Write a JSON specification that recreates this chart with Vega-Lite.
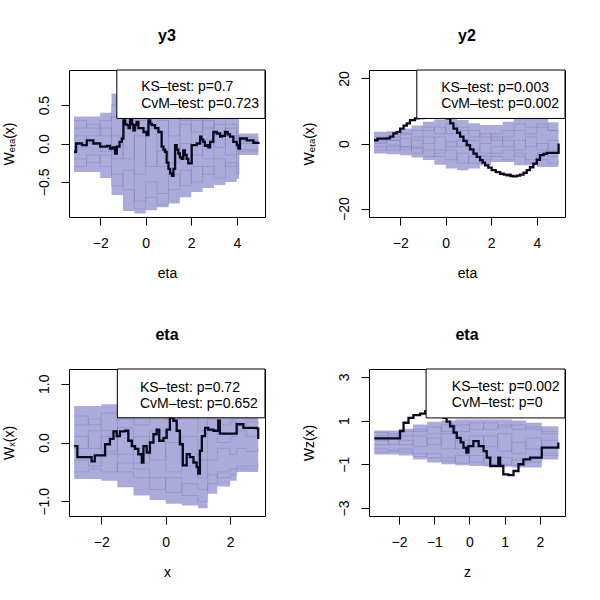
{
  "$schema": "https://vega.github.io/schema/vega-lite/v6.json",
  "background": "white",
  "padding": {"left": 1, "top": 27, "right": 0, "bottom": 0},
  "config": {
    "font": "Liberation Sans",
    "view": {"stroke": "black", "strokeWidth": 1},
    "axis": {"grid": false, "domain": false, "tickColor": "black", "tickSize": 8, "labelColor": "black", "labelFontSize": 14, "labelFont": "Liberation Sans", "titleFont": "Liberation Sans", "titleFontSize": 14, "titleFontWeight": "normal", "titleColor": "black", "labelPadding": 10},
    "axisY": {"labelAngle": -90, "labelAlign": "center", "labelBaseline": "bottom", "titlePadding": 21},
    "axisX": {"labelPadding": 11, "titlePadding": 16},
    "title": {"fontSize": 16, "font": "Liberation Sans", "fontWeight": "bold", "frame": "group", "offset": 26, "color": "black"}
  },
  "datasets": {
    "p1s": [
      {"x": -3.15, "lo": -0.37, "hi": 0.35, "a": 0.2, "b": -0.2, "c": 0.1, "d": -0.05, "e": 0.3, "f": -0.3},
      {"x": -2.6, "lo": -0.37, "hi": 0.35, "a": 0.25, "b": -0.25, "c": 0, "d": 0.1, "e": 0.2, "f": -0.15},
      {"x": -2.0, "lo": -0.45, "hi": 0.4, "a": 0.1, "b": -0.15, "c": -0.1, "d": 0.2, "e": 0.3, "f": -0.3},
      {"x": -1.5, "lo": -0.67, "hi": 0.65, "a": 0.35, "b": -0.4, "c": 0.1, "d": -0.2, "e": 0.5, "f": -0.55},
      {"x": -1.0, "lo": -0.88, "hi": 0.78, "a": 0.5, "b": -0.6, "c": -0.2, "d": 0.2, "e": 0.35, "f": -0.35},
      {"x": -0.5, "lo": -0.91, "hi": 0.85, "a": 0.3, "b": -0.75, "c": 0.1, "d": -0.4, "e": 0.7, "f": -0.85},
      {"x": 0.0, "lo": -0.87, "hi": 0.85, "a": 0.55, "b": -0.5, "c": -0.3, "d": 0.2, "e": 0.4, "f": -0.7},
      {"x": 0.5, "lo": -0.83, "hi": 0.8, "a": 0.3, "b": -0.65, "c": -0.1, "d": -0.3, "e": 0.6, "f": -0.8},
      {"x": 1.0, "lo": -0.78, "hi": 0.75, "a": 0.1, "b": -0.4, "c": -0.25, "d": 0.35, "e": 0.45, "f": -0.6},
      {"x": 1.5, "lo": -0.7, "hi": 0.7, "a": 0.25, "b": -0.55, "c": 0, "d": -0.2, "e": 0.3, "f": -0.35},
      {"x": 2.0, "lo": -0.63, "hi": 0.6, "a": 0.15, "b": -0.3, "c": -0.15, "d": 0.3, "e": 0.45, "f": -0.5},
      {"x": 2.5, "lo": -0.58, "hi": 0.55, "a": 0.3, "b": -0.4, "c": 0.05, "d": -0.2, "e": 0.2, "f": -0.3},
      {"x": 3.0, "lo": -0.54, "hi": 0.5, "a": 0.1, "b": -0.2, "c": -0.05, "d": 0.25, "e": 0.35, "f": -0.45},
      {"x": 3.5, "lo": -0.5, "hi": 0.45, "a": 0.2, "b": -0.3, "c": 0.1, "d": -0.15, "e": 0.25, "f": -0.25},
      {"x": 4.0, "lo": -0.46, "hi": 0.4, "a": 0.05, "b": -0.1, "c": -0.05, "d": 0.1, "e": 0.1, "f": -0.4},
      {"x": 4.1, "lo": -0.15, "hi": 0.13, "a": 0.05, "b": -0.08, "c": 0, "d": 0.03, "e": 0.08, "f": -0.1},
      {"x": 4.95, "lo": -0.15, "hi": 0.13, "a": 0.05, "b": -0.08, "c": 0, "d": 0.03, "e": 0.08, "f": -0.1}
    ],
    "p1o": [
      {"x": -3.15, "y": -0.11}, {"x": -3.06, "y": 0.0}, {"x": -2.8, "y": -0.02}, {"x": -2.59, "y": 0.04}, {"x": -2.3, "y": 0.0}, {"x": -2.0, "y": -0.04}, {"x": -1.71, "y": -0.03}, {"x": -1.57, "y": -0.065}, {"x": -1.45, "y": -0.05}, {"x": -1.35, "y": -0.13}, {"x": -1.27, "y": -0.04}, {"x": -1.15, "y": 0.02}, {"x": -1.05, "y": 0.065}, {"x": -0.98, "y": 0.3}, {"x": -0.9, "y": 0.25}, {"x": -0.83, "y": 0.24}, {"x": -0.75, "y": 0.2}, {"x": -0.69, "y": 0.33}, {"x": -0.6, "y": 0.25}, {"x": -0.54, "y": 0.17}, {"x": -0.47, "y": 0.24}, {"x": -0.4, "y": 0.28}, {"x": -0.32, "y": 0.2}, {"x": -0.1, "y": 0.15}, {"x": 0.04, "y": 0.11}, {"x": 0.12, "y": 0.3}, {"x": 0.2, "y": 0.26}, {"x": 0.26, "y": 0.24}, {"x": 0.41, "y": 0.2}, {"x": 0.56, "y": 0.15}, {"x": 0.7, "y": -0.04}, {"x": 0.78, "y": -0.08}, {"x": 0.85, "y": -0.11}, {"x": 0.92, "y": -0.25}, {"x": 1.0, "y": -0.33}, {"x": 1.07, "y": -0.39}, {"x": 1.15, "y": -0.42}, {"x": 1.22, "y": -0.33}, {"x": 1.29, "y": -0.02}, {"x": 1.36, "y": -0.08}, {"x": 1.43, "y": -0.13}, {"x": 1.5, "y": -0.18}, {"x": 1.58, "y": -0.2}, {"x": 1.65, "y": -0.09}, {"x": 1.72, "y": -0.15}, {"x": 1.8, "y": -0.2}, {"x": 1.87, "y": -0.26}, {"x": 2.02, "y": -0.02}, {"x": 2.24, "y": 0.0}, {"x": 2.39, "y": 0.09}, {"x": 2.45, "y": 0.05}, {"x": 2.53, "y": 0.02}, {"x": 2.6, "y": -0.03}, {"x": 2.68, "y": -0.02}, {"x": 2.75, "y": -0.05}, {"x": 2.83, "y": 0.02}, {"x": 2.97, "y": 0.15}, {"x": 3.12, "y": 0.13}, {"x": 3.27, "y": 0.09}, {"x": 3.35, "y": 0.1}, {"x": 3.48, "y": 0.15}, {"x": 3.6, "y": 0.12}, {"x": 3.7, "y": 0.09}, {"x": 3.85, "y": 0.02}, {"x": 4.0, "y": -0.02}, {"x": 4.07, "y": -0.065}, {"x": 4.14, "y": 0.065}, {"x": 4.44, "y": 0.04}, {"x": 4.73, "y": 0.01}, {"x": 4.95, "y": 0.02}
    ],
    "p2s": [
      {"x": -3.15, "lo": -3.1, "hi": 3.6, "a": 1, "b": -1, "c": 0, "d": 2, "e": -2, "f": 0.5},
      {"x": -2.6, "lo": -3.3, "hi": 3.8, "a": 2, "b": -2, "c": 1, "d": 1, "e": -1, "f": -0.5},
      {"x": -2.0, "lo": -3.6, "hi": 4.6, "a": 3, "b": -1, "c": -1, "d": 3, "e": -2, "f": 1.5},
      {"x": -1.5, "lo": -4.3, "hi": 5.5, "a": 2, "b": -3, "c": 1, "d": 4, "e": -1, "f": -1.5},
      {"x": -1.0, "lo": -5.1, "hi": 6.7, "a": 4, "b": -2, "c": 0, "d": 5, "e": -4, "f": 2},
      {"x": -0.5, "lo": -6.5, "hi": 7.4, "a": 5, "b": -4, "c": 2, "d": 3, "e": -3, "f": -2},
      {"x": 0.0, "lo": -7.7, "hi": 7.7, "a": 3, "b": -5, "c": -1, "d": 6, "e": -2, "f": 0.5},
      {"x": 0.5, "lo": -8.2, "hi": 7.2, "a": 4, "b": -3, "c": 1, "d": 5, "e": -6, "f": -1},
      {"x": 1.0, "lo": -7.7, "hi": 6.2, "a": 2, "b": -6, "c": -2, "d": 4, "e": -4, "f": 1},
      {"x": 1.5, "lo": -6.7, "hi": 5.7, "a": 3, "b": -4, "c": 0, "d": 2, "e": -5, "f": -3},
      {"x": 2.0, "lo": -5.7, "hi": 5.7, "a": 1, "b": -3, "c": 2, "d": 3, "e": -4, "f": -1},
      {"x": 2.5, "lo": -5.7, "hi": 6.7, "a": 2, "b": -2, "c": -1, "d": 4, "e": -5, "f": 1},
      {"x": 3.0, "lo": -6.7, "hi": 7.7, "a": 4, "b": -4, "c": 1, "d": 6, "e": -3, "f": -2},
      {"x": 3.5, "lo": -6.7, "hi": 7.7, "a": 3, "b": -5, "c": -1, "d": 5, "e": -6, "f": 2},
      {"x": 4.0, "lo": -7.2, "hi": 7.7, "a": 5, "b": -3, "c": 0, "d": 6, "e": -5, "f": -2},
      {"x": 4.5, "lo": -7.2, "hi": 6.5, "a": 4, "b": -4, "c": -2, "d": 4, "e": -6, "f": 1},
      {"x": 4.95, "lo": -7.2, "hi": 5.7, "a": 3, "b": -4, "c": -1, "d": 4, "e": -5, "f": 0}
    ],
    "p2o": [
      {"x": -3.15, "y": 1.0}, {"x": -3.0, "y": 1.5}, {"x": -2.6, "y": 1.6}, {"x": -2.45, "y": 2.1}, {"x": -2.3, "y": 3.1}, {"x": -2.15, "y": 3.6}, {"x": -2.0, "y": 4.6}, {"x": -1.85, "y": 5.5}, {"x": -1.71, "y": 6.2}, {"x": -1.57, "y": 7.2}, {"x": -1.35, "y": 7.7}, {"x": -1.2, "y": 7.8}, {"x": -0.98, "y": 8.0}, {"x": -0.7, "y": 8.6}, {"x": -0.4, "y": 9.0}, {"x": -0.1, "y": 8.6}, {"x": 0.04, "y": 7.7}, {"x": 0.2, "y": 6.2}, {"x": 0.34, "y": 4.6}, {"x": 0.5, "y": 3.3}, {"x": 0.63, "y": 2.1}, {"x": 0.78, "y": 0.8}, {"x": 0.92, "y": -0.5}, {"x": 1.07, "y": -1.8}, {"x": 1.22, "y": -3.1}, {"x": 1.36, "y": -4.1}, {"x": 1.51, "y": -5.1}, {"x": 1.62, "y": -5.9}, {"x": 1.73, "y": -6.7}, {"x": 1.87, "y": -7.4}, {"x": 2.02, "y": -8.2}, {"x": 2.2, "y": -8.8}, {"x": 2.39, "y": -9.3}, {"x": 2.55, "y": -9.6}, {"x": 2.68, "y": -9.8}, {"x": 2.8, "y": -9.6}, {"x": 2.85, "y": -10.0}, {"x": 2.97, "y": -10.1}, {"x": 3.12, "y": -9.9}, {"x": 3.27, "y": -9.6}, {"x": 3.42, "y": -9.0}, {"x": 3.56, "y": -8.2}, {"x": 3.7, "y": -7.3}, {"x": 3.85, "y": -6.2}, {"x": 4.0, "y": -5.0}, {"x": 4.14, "y": -3.6}, {"x": 4.3, "y": -3.2}, {"x": 4.44, "y": -2.9}, {"x": 4.95, "y": -2.9}, {"x": 4.96, "y": 0.0}
    ],
    "p3s": [
      {"x": -2.84, "lo": -0.62, "hi": 0.62, "a": 0.3, "b": -0.3, "c": 0.1, "d": -0.1, "e": 0.45, "f": -0.5},
      {"x": -2.4, "lo": -0.62, "hi": 0.62, "a": 0.4, "b": -0.4, "c": -0.1, "d": 0.2, "e": 0.3, "f": -0.45},
      {"x": -2.0, "lo": -0.65, "hi": 0.65, "a": 0.2, "b": -0.2, "c": 0.1, "d": -0.15, "e": 0.5, "f": -0.5},
      {"x": -1.5, "lo": -0.76, "hi": 0.7, "a": 0.5, "b": -0.5, "c": -0.2, "d": 0.25, "e": 0.4, "f": -0.35},
      {"x": -1.0, "lo": -0.9, "hi": 0.75, "a": 0.3, "b": -0.6, "c": 0.1, "d": -0.35, "e": 0.6, "f": -0.45},
      {"x": -0.5, "lo": -0.98, "hi": 0.78, "a": 0.6, "b": -0.8, "c": -0.3, "d": 0.2, "e": 0.5, "f": -0.6},
      {"x": 0.0, "lo": -1.04, "hi": 0.8, "a": 0.4, "b": -0.6, "c": 0.0, "d": -0.5, "e": 0.65, "f": -0.85},
      {"x": 0.5, "lo": -1.07, "hi": 0.8, "a": 0.5, "b": -0.9, "c": -0.4, "d": 0.1, "e": 0.7, "f": -0.7},
      {"x": 1.0, "lo": -1.12, "hi": 0.75, "a": 0.2, "b": -1.0, "c": -0.6, "d": -0.3, "e": 0.5, "f": -0.8},
      {"x": 1.3, "lo": -0.87, "hi": 0.7, "a": 0.4, "b": -0.7, "c": -0.3, "d": 0.2, "e": 0.55, "f": -0.55},
      {"x": 1.6, "lo": -0.75, "hi": 0.6, "a": 0.3, "b": -0.5, "c": -0.1, "d": 0.0, "e": 0.45, "f": -0.6},
      {"x": 2.0, "lo": -0.65, "hi": 0.55, "a": 0.35, "b": -0.45, "c": -0.2, "d": 0.1, "e": 0.4, "f": -0.55},
      {"x": 2.2, "lo": -0.5, "hi": 0.5, "a": 0.3, "b": -0.4, "c": -0.1, "d": 0.2, "e": 0.45, "f": -0.45},
      {"x": 2.5, "lo": -0.5, "hi": 0.5, "a": 0.35, "b": -0.4, "c": -0.15, "d": 0.1, "e": 0.4, "f": -0.45},
      {"x": 2.87, "lo": -0.5, "hi": 0.5, "a": 0.3, "b": -0.35, "c": -0.1, "d": 0.15, "e": 0.4, "f": -0.45}
    ],
    "p3o": [
      {"x": -2.84, "y": -0.06}, {"x": -2.74, "y": -0.25}, {"x": -2.45, "y": -0.25}, {"x": -2.3, "y": -0.32}, {"x": -2.2, "y": -0.22}, {"x": -2.0, "y": -0.22}, {"x": -1.88, "y": -0.03}, {"x": -1.73, "y": 0.06}, {"x": -1.62, "y": 0.19}, {"x": -1.52, "y": 0.11}, {"x": -1.42, "y": 0.19}, {"x": -1.26, "y": 0.2}, {"x": -1.16, "y": 0.03}, {"x": -1.05, "y": -0.06}, {"x": -0.95, "y": -0.11}, {"x": -0.85, "y": -0.2}, {"x": -0.74, "y": -0.34}, {"x": -0.69, "y": -0.06}, {"x": -0.59, "y": -0.17}, {"x": -0.49, "y": 0.0}, {"x": -0.38, "y": 0.14}, {"x": -0.28, "y": 0.22}, {"x": -0.2, "y": 0.03}, {"x": -0.07, "y": 0.08}, {"x": 0.03, "y": 0.22}, {"x": 0.13, "y": 0.42}, {"x": 0.24, "y": 0.37}, {"x": 0.34, "y": 0.2}, {"x": 0.44, "y": -0.03}, {"x": 0.53, "y": -0.39}, {"x": 0.65, "y": -0.2}, {"x": 0.75, "y": -0.25}, {"x": 0.86, "y": -0.34}, {"x": 0.96, "y": -0.42}, {"x": 1.01, "y": -0.53}, {"x": 1.06, "y": -0.14}, {"x": 1.12, "y": 0.11}, {"x": 1.22, "y": 0.25}, {"x": 1.32, "y": 0.22}, {"x": 1.48, "y": 0.2}, {"x": 1.63, "y": 0.37}, {"x": 1.68, "y": 0.15}, {"x": 1.99, "y": 0.15}, {"x": 2.2, "y": 0.31}, {"x": 2.41, "y": 0.25}, {"x": 2.82, "y": 0.24}, {"x": 2.87, "y": 0.06}
    ],
    "p4s": [
      {"x": -2.7, "lo": -0.55, "hi": 0.55, "a": 0.3, "b": -0.3, "c": 0.1, "d": -0.1, "e": 0.45, "f": -0.45},
      {"x": -2.3, "lo": -0.55, "hi": 0.55, "a": 0.4, "b": -0.35, "c": -0.1, "d": 0.15, "e": 0.3, "f": -0.4},
      {"x": -2.0, "lo": -0.6, "hi": 0.62, "a": 0.3, "b": -0.3, "c": 0.1, "d": -0.1, "e": 0.5, "f": -0.45},
      {"x": -1.6, "lo": -0.78, "hi": 0.82, "a": 0.5, "b": -0.5, "c": -0.2, "d": 0.3, "e": 0.6, "f": -0.65},
      {"x": -1.2, "lo": -0.92, "hi": 0.95, "a": 0.7, "b": -0.7, "c": 0.2, "d": -0.1, "e": 0.4, "f": -0.5},
      {"x": -0.8, "lo": -1.0, "hi": 1.0, "a": 0.5, "b": -0.85, "c": -0.3, "d": 0.4, "e": 0.8, "f": -0.7},
      {"x": -0.4, "lo": -1.05, "hi": 1.05, "a": 0.8, "b": -0.6, "c": 0.1, "d": -0.3, "e": 0.5, "f": -0.95},
      {"x": 0.0, "lo": -1.08, "hi": 1.05, "a": 0.6, "b": -0.9, "c": -0.2, "d": 0.3, "e": 0.9, "f": -0.6},
      {"x": 0.4, "lo": -1.1, "hi": 1.05, "a": 0.9, "b": -0.7, "c": 0.3, "d": -0.2, "e": 0.6, "f": -1.0},
      {"x": 0.8, "lo": -1.12, "hi": 1.05, "a": 0.7, "b": -1.0, "c": -0.4, "d": 0.4, "e": 0.8, "f": -0.7},
      {"x": 1.2, "lo": -1.15, "hi": 1.0, "a": 0.8, "b": -0.8, "c": 0.0, "d": -0.5, "e": 0.6, "f": -1.05},
      {"x": 1.6, "lo": -1.15, "hi": 0.9, "a": 0.6, "b": -0.9, "c": -0.3, "d": 0.2, "e": 0.7, "f": -0.75},
      {"x": 2.05, "lo": -0.78, "hi": 0.74, "a": 0.5, "b": -0.6, "c": 0.1, "d": -0.2, "e": 0.4, "f": -0.5},
      {"x": 2.52, "lo": -0.78, "hi": 0.74, "a": 0.5, "b": -0.6, "c": 0.1, "d": -0.2, "e": 0.4, "f": -0.5}
    ],
    "p4o": [
      {"x": -2.7, "y": 0.18}, {"x": -2.06, "y": 0.18}, {"x": -1.97, "y": 0.52}, {"x": -1.87, "y": 0.9}, {"x": -1.73, "y": 1.12}, {"x": -1.59, "y": 1.25}, {"x": -1.4, "y": 1.32}, {"x": -1.26, "y": 1.43}, {"x": -1.05, "y": 1.45}, {"x": -0.9, "y": 1.3}, {"x": -0.74, "y": 1.12}, {"x": -0.65, "y": 0.95}, {"x": -0.55, "y": 0.74}, {"x": -0.45, "y": 0.45}, {"x": -0.36, "y": 0.21}, {"x": -0.25, "y": 0.0}, {"x": -0.17, "y": -0.24}, {"x": -0.09, "y": -0.47}, {"x": -0.03, "y": -0.17}, {"x": 0.11, "y": 0.06}, {"x": 0.26, "y": -0.17}, {"x": 0.4, "y": -0.4}, {"x": 0.49, "y": -0.7}, {"x": 0.59, "y": -1.08}, {"x": 0.73, "y": -1.08}, {"x": 0.82, "y": -0.7}, {"x": 0.87, "y": -1.08}, {"x": 0.96, "y": -1.46}, {"x": 1.11, "y": -1.5}, {"x": 1.25, "y": -1.31}, {"x": 1.39, "y": -1.0}, {"x": 1.53, "y": -0.78}, {"x": 1.72, "y": -0.7}, {"x": 1.96, "y": -0.7}, {"x": 2.05, "y": -0.24}, {"x": 2.48, "y": -0.24}, {"x": 2.52, "y": 0.0}
    ]
  },
  "columns": 2,
  "bounds": "flush",
  "spacing": {"row": 152, "column": 104},
  "concat": [
    {
      "title": "y3",
      "width": 196, "height": 147,
      "layer": [
        {"data": {"name": "p1s"}, "mark": {"type": "area", "interpolate": "step-after", "color": "#ababdb"},
         "encoding": {
           "x": {"field": "x", "type": "quantitative", "scale": {"domain": [-3.37, 5.24], "nice": false, "zero": false}, "axis": {"title": "eta", "values": [-2, 0, 2, 4], "format": "d"}},
           "y": {"field": "lo", "type": "quantitative", "scale": {"domain": [-0.957, 0.957], "nice": false, "zero": false}, "axis": {"title": "Wₑₜₐ(x)", "values": [-0.5, 0, 0.5], "format": ".1f"}},
           "y2": {"field": "hi"}}},
        {"data": {"name": "p1s"}, "transform": [{"fold": ["a", "b", "c", "d", "e", "f"], "as": ["k", "v"]}],
         "mark": {"type": "line", "interpolate": "step-after", "color": "#7f7fb5", "strokeWidth": 0.8, "opacity": 0.55},
         "encoding": {"x": {"field": "x", "type": "quantitative"}, "y": {"field": "v", "type": "quantitative"}, "detail": {"field": "k"}}},
        {"data": {"name": "p1o"}, "mark": {"type": "line", "interpolate": "step-after", "color": "#0a0a1e", "strokeWidth": 2.3},
         "encoding": {"x": {"field": "x", "type": "quantitative"}, "y": {"field": "y", "type": "quantitative"}}},
        {"data": {"values": [{}]}, "mark": {"type": "rect", "fill": "white", "stroke": "black", "strokeWidth": 1},
         "encoding": {"x": {"datum": -1.27}, "x2": {"datum": 5.24}, "y": {"datum": 0.326}, "y2": {"datum": 0.957}}},
        {"data": {"values": [{}]}, "mark": {"type": "text", "align": "left", "baseline": "middle", "fontSize": 14, "font": "Liberation Sans", "color": "black"},
         "encoding": {"x": {"datum": -0.2}, "y": {"datum": 0.735}, "text": {"value": "KS–test: p=0.7"}}},
        {"data": {"values": [{}]}, "mark": {"type": "text", "align": "left", "baseline": "middle", "fontSize": 14, "font": "Liberation Sans", "color": "black"},
         "encoding": {"x": {"datum": -0.2}, "y": {"datum": 0.515}, "text": {"value": "CvM–test: p=0.723"}}}
      ]
    },
    {
      "title": "y2",
      "width": 196, "height": 147,
      "layer": [
        {"data": {"name": "p2s"}, "mark": {"type": "area", "interpolate": "step-after", "color": "#ababdb"},
         "encoding": {
           "x": {"field": "x", "type": "quantitative", "scale": {"domain": [-3.37, 5.24], "nice": false, "zero": false}, "axis": {"title": "eta", "values": [-2, 0, 2, 4], "format": "d"}},
           "y": {"field": "lo", "type": "quantitative", "scale": {"domain": [-22.6, 22.6], "nice": false, "zero": false}, "axis": {"title": "Wₑₜₐ(x)", "values": [-20, -10, 0, 10, 20], "format": "d"}},
           "y2": {"field": "hi"}}},
        {"data": {"name": "p2s"}, "transform": [{"fold": ["a", "b", "c", "d", "e", "f"], "as": ["k", "v"]}],
         "mark": {"type": "line", "interpolate": "step-after", "color": "#7f7fb5", "strokeWidth": 0.8, "opacity": 0.55},
         "encoding": {"x": {"field": "x", "type": "quantitative"}, "y": {"field": "v", "type": "quantitative"}, "detail": {"field": "k"}}},
        {"data": {"name": "p2o"}, "mark": {"type": "line", "interpolate": "step-after", "color": "#0a0a1e", "strokeWidth": 2.3},
         "encoding": {"x": {"field": "x", "type": "quantitative"}, "y": {"field": "y", "type": "quantitative"}}},
        {"data": {"values": [{}]}, "mark": {"type": "rect", "fill": "white", "stroke": "black", "strokeWidth": 1},
         "encoding": {"x": {"datum": -1.27}, "x2": {"datum": 5.24}, "y": {"datum": 7.7}, "y2": {"datum": 22.6}}},
        {"data": {"values": [{}]}, "mark": {"type": "text", "align": "left", "baseline": "middle", "fontSize": 14, "font": "Liberation Sans", "color": "black"},
         "encoding": {"x": {"datum": -0.2}, "y": {"datum": 17.0}, "text": {"value": "KS–test: p=0.003"}}},
        {"data": {"values": [{}]}, "mark": {"type": "text", "align": "left", "baseline": "middle", "fontSize": 14, "font": "Liberation Sans", "color": "black"},
         "encoding": {"x": {"datum": -0.2}, "y": {"datum": 12.2}, "text": {"value": "CvM–test: p=0.002"}}}
      ]
    },
    {
      "title": "eta",
      "width": 196, "height": 147,
      "layer": [
        {"data": {"name": "p3s"}, "mark": {"type": "area", "interpolate": "step-after", "color": "#ababdb"},
         "encoding": {
           "x": {"field": "x", "type": "quantitative", "scale": {"domain": [-3.0, 3.08], "nice": false, "zero": false}, "axis": {"title": "x", "values": [-2, -1, 0, 1, 2, 3], "format": "d"}},
           "y": {"field": "lo", "type": "quantitative", "scale": {"domain": [-1.25, 1.25], "nice": false, "zero": false}, "axis": {"title": "Wₓ(x)", "values": [-1, -0.5, 0, 0.5, 1], "format": ".1f", "labelExpr": "abs(datum.value) == 0.5 ? '' : datum.label"}},
           "y2": {"field": "hi"}}},
        {"data": {"name": "p3s"}, "transform": [{"fold": ["a", "b", "c", "d", "e", "f"], "as": ["k", "v"]}],
         "mark": {"type": "line", "interpolate": "step-after", "color": "#7f7fb5", "strokeWidth": 0.8, "opacity": 0.55},
         "encoding": {"x": {"field": "x", "type": "quantitative"}, "y": {"field": "v", "type": "quantitative"}, "detail": {"field": "k"}}},
        {"data": {"name": "p3o"}, "mark": {"type": "line", "interpolate": "step-after", "color": "#0a0a1e", "strokeWidth": 2.3},
         "encoding": {"x": {"field": "x", "type": "quantitative"}, "y": {"field": "y", "type": "quantitative"}}},
        {"data": {"values": [{}]}, "mark": {"type": "rect", "fill": "white", "stroke": "black", "strokeWidth": 1},
         "encoding": {"x": {"datum": -1.5}, "x2": {"datum": 3.08}, "y": {"datum": 0.42}, "y2": {"datum": 1.25}}},
        {"data": {"values": [{}]}, "mark": {"type": "text", "align": "left", "baseline": "middle", "fontSize": 14, "font": "Liberation Sans", "color": "black"},
         "encoding": {"x": {"datum": -0.8}, "y": {"datum": 0.93}, "text": {"value": "KS–test: p=0.72"}}},
        {"data": {"values": [{}]}, "mark": {"type": "text", "align": "left", "baseline": "middle", "fontSize": 14, "font": "Liberation Sans", "color": "black"},
         "encoding": {"x": {"datum": -0.8}, "y": {"datum": 0.65}, "text": {"value": "CvM–test: p=0.652"}}}
      ]
    },
    {
      "title": "eta",
      "width": 196, "height": 147,
      "layer": [
        {"data": {"name": "p4s"}, "mark": {"type": "area", "interpolate": "step-after", "color": "#ababdb"},
         "encoding": {
           "x": {"field": "x", "type": "quantitative", "scale": {"domain": [-2.85, 2.71], "nice": false, "zero": false}, "axis": {"title": "z", "values": [-2, -1, 0, 1, 2], "format": "d"}},
           "y": {"field": "lo", "type": "quantitative", "scale": {"domain": [-3.37, 3.36], "nice": false, "zero": false}, "axis": {"title": "Wz(x)", "values": [-3, -2, -1, 0, 1, 2, 3], "format": "d", "labelExpr": "(datum.value == 0 || datum.value == -2) ? '' : datum.label"}},
           "y2": {"field": "hi"}}},
        {"data": {"name": "p4s"}, "transform": [{"fold": ["a", "b", "c", "d", "e", "f"], "as": ["k", "v"]}],
         "mark": {"type": "line", "interpolate": "step-after", "color": "#7f7fb5", "strokeWidth": 0.8, "opacity": 0.55},
         "encoding": {"x": {"field": "x", "type": "quantitative"}, "y": {"field": "v", "type": "quantitative"}, "detail": {"field": "k"}}},
        {"data": {"name": "p4o"}, "mark": {"type": "line", "interpolate": "step-after", "color": "#0a0a1e", "strokeWidth": 2.3},
         "encoding": {"x": {"field": "x", "type": "quantitative"}, "y": {"field": "y", "type": "quantitative"}}},
        {"data": {"values": [{}]}, "mark": {"type": "rect", "fill": "white", "stroke": "black", "strokeWidth": 1},
         "encoding": {"x": {"datum": -1.23}, "x2": {"datum": 2.71}, "y": {"datum": 1.12}, "y2": {"datum": 3.36}}},
        {"data": {"values": [{}]}, "mark": {"type": "text", "align": "left", "baseline": "middle", "fontSize": 14, "font": "Liberation Sans", "color": "black"},
         "encoding": {"x": {"datum": -0.5}, "y": {"datum": 2.52}, "text": {"value": "KS–test: p=0.002"}}},
        {"data": {"values": [{}]}, "mark": {"type": "text", "align": "left", "baseline": "middle", "fontSize": 14, "font": "Liberation Sans", "color": "black"},
         "encoding": {"x": {"datum": -0.5}, "y": {"datum": 1.8}, "text": {"value": "CvM–test: p=0"}}}
      ]
    }
  ]
}
